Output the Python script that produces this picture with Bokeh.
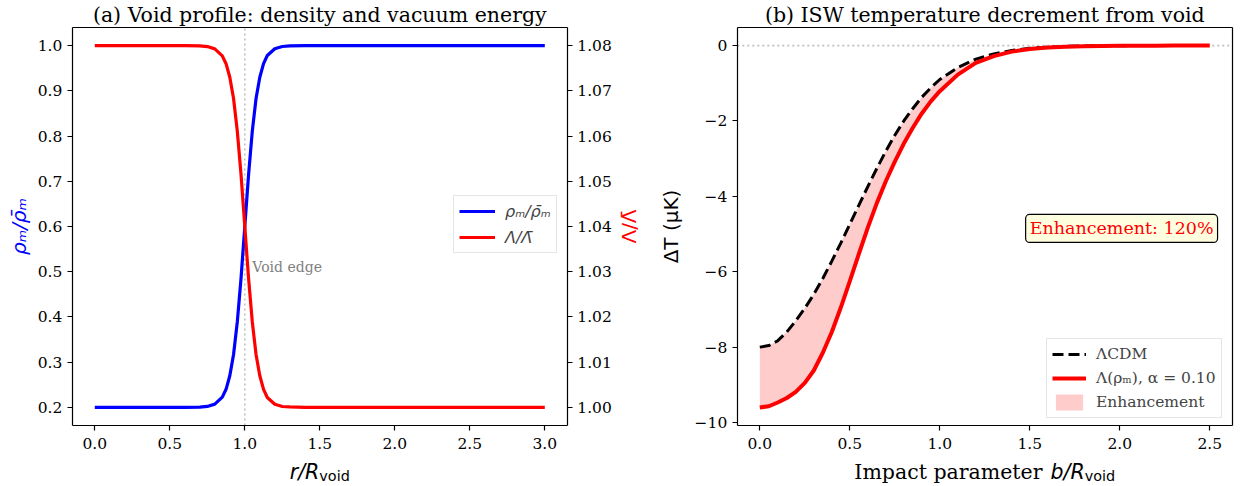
import math
from bokeh.plotting import figure
from bokeh.models import (Range1d, LinearAxis, FixedTicker, PrintfTickFormatter,
                          Label, Legend, LegendItem)
from bokeh.layouts import row
from bokeh.embed import file_html
from bokeh.resources import INLINE

SERIF = "DejaVu Serif"
SANS = "DejaVu Sans"

# ---------------- data ----------------
r_profile = [0.0, 0.5, 0.6, 0.7, 0.75, 0.8, 0.85, 0.875, 0.9, 0.925, 0.95, 0.975,
             1.0, 1.025, 1.05, 1.075, 1.1, 1.125, 1.15, 1.2, 1.25, 1.3, 1.4, 1.5, 2.0, 3.0]
rho_ratio = [0.200, 0.200, 0.2002, 0.2007, 0.2022, 0.2072, 0.2228, 0.240, 0.270, 0.317,
             0.389, 0.486, 0.600, 0.714, 0.811, 0.883, 0.930, 0.960, 0.978, 0.993,
             0.998, 0.9993, 1.0, 1.0, 1.0, 1.0]
lam_ratio = [1.0800, 1.0800, 1.07998, 1.07993, 1.07978, 1.07928, 1.07772, 1.0760, 1.0730,
             1.0683, 1.0611, 1.0514, 1.0400, 1.0286, 1.0189, 1.0117, 1.0070, 1.0040,
             1.0022, 1.0007, 1.0002, 1.0001, 1.0, 1.0, 1.0, 1.0]
void_edge = 1.0

b_impact = [0.0, 0.05, 0.1, 0.15, 0.2, 0.25, 0.3, 0.35, 0.4, 0.45, 0.5, 0.55, 0.6,
            0.65, 0.7, 0.75, 0.8, 0.85, 0.9, 0.95, 1.0, 1.1, 1.2, 1.3, 1.4, 1.5,
            1.6, 1.7, 1.8, 1.9, 2.0, 2.1, 2.2, 2.3, 2.4, 2.5]
dT_lcdm = [-8.00, -7.96, -7.83, -7.60, -7.30, -6.97, -6.60, -6.18, -5.72, -5.24, -4.74,
           -4.24, -3.74, -3.26, -2.80, -2.38, -2.00, -1.67, -1.37, -1.12, -0.90,
           -0.58, -0.36, -0.22, -0.13, -0.07, -0.04, -0.02, -0.01, -0.005, -0.002,
           0.0, 0.0, 0.0, 0.0, 0.0]
dT_lam = [-9.60, -9.57, -9.47, -9.35, -9.19, -8.95, -8.62, -8.15, -7.60, -6.95, -6.25,
          -5.53, -4.83, -4.18, -3.60, -3.08, -2.60, -2.18, -1.80, -1.48, -1.21,
          -0.77, -0.46, -0.28, -0.16, -0.09, -0.05, -0.03, -0.015, -0.008, -0.004,
          -0.002, -0.001, 0.0, 0.0, 0.0]
enhancement_text = "Enhancement: 120%"

x1_ticks = [0.0, 0.5, 1.0, 1.5, 2.0, 2.5, 3.0]
y1_ticks = [0.2, 0.3, 0.4, 0.5, 0.6, 0.7, 0.8, 0.9, 1.0]
y1r_ticks = [1.00, 1.01, 1.02, 1.03, 1.04, 1.05, 1.06, 1.07, 1.08]
x2_ticks = [0.0, 0.5, 1.0, 1.5, 2.0, 2.5]
y2_ticks = [-10, -8, -6, -4, -2, 0]
y2_labels = ["\u221210", "\u22128", "\u22126", "\u22124", "\u22122", "0"]

# axis limits of the plotting boxes
X1 = (-0.15, 3.15)
Y1 = (0.16, 1.04)
Y1R = (0.996, 1.084)
X2 = (-0.125, 2.625)
Y2 = (-10.08, 0.48)

# ---------------- layout constants (pixels) ----------------
H = 484
W1, W2 = 650, 590
BOX1 = (71.8, 566.8, 27.0, 425.0)   # left, right, top, bottom inside canvas 1
BOX2 = (86.8, 581.8, 27.0, 425.0)   # inside canvas 2

TICK_FS = "15.5px"
TITLE_FS = "20.5px"
LABEL_FS = "20.5px"
YLABEL_FS = "20px"
SUB_FS = "14.4px"
LEG_FS = "15.5px"
TITLE_DY = 13
XLABEL_DY = -46


def extend(lo, hi, p_lo, p_hi, total):
    s = (hi - lo) / (p_hi - p_lo)
    return Range1d(lo - p_lo * s, hi + (total - p_hi) * s)


def xr(lims, box, w):
    return extend(lims[0], lims[1], box[0], box[1], w)


def yr(lims, box, h):
    return extend(lims[0], lims[1], h - box[3], h - box[2], h)


def style_axis(ax, ticks=True, standoff=5):
    ax.axis_line_color = "black"
    ax.axis_line_width = 1.2
    ax.major_tick_line_color = "black" if ticks else None
    ax.major_tick_line_width = 1.2
    ax.major_tick_out = 5
    ax.major_tick_in = 0
    ax.minor_tick_line_color = None
    ax.major_label_text_font = SERIF
    ax.major_label_text_font_size = TICK_FS
    ax.major_label_text_color = "black"
    ax.major_label_standoff = standoff
    if not ticks:
        ax.major_label_text_alpha = 0


def make_fig(w, xrange_, yrange_):
    p = figure(width=w, height=H, output_backend="svg", toolbar_location=None,
               title=None, x_range=xrange_, y_range=yrange_,
               x_axis_type=None, y_axis_type=None, min_border=0)
    p.outline_line_color = None
    p.background_fill_color = "white"
    p.border_fill_color = "white"
    return p


def box_axes(p, xl, yl, xticks, yticks, xfmt, yfmt, right_axis=None):
    bottom = LinearAxis(fixed_location=yl[0], bounds=xl, ticker=FixedTicker(ticks=xticks),
                        formatter=PrintfTickFormatter(format=xfmt))
    style_axis(bottom, standoff=7)
    p.add_layout(bottom, "below")
    left = LinearAxis(fixed_location=xl[0], bounds=yl, ticker=FixedTicker(ticks=yticks))
    if yfmt is not None:
        left.formatter = PrintfTickFormatter(format=yfmt)
    style_axis(left)
    p.add_layout(left, "left")
    top = LinearAxis(fixed_location=yl[1], bounds=xl, ticker=FixedTicker(ticks=[]))
    style_axis(top, ticks=False)
    p.add_layout(top, "above")
    if right_axis is None:
        right = LinearAxis(fixed_location=xl[1], bounds=yl, ticker=FixedTicker(ticks=[]))
        style_axis(right, ticks=False)
        p.add_layout(right, "right")
    else:
        p.add_layout(right_axis, "right")
    return left


def compose_label(p, xc, y0, parts, yoff):
    total = sum(pt[4] for pt in parts)
    off = -total / 2.0
    for text, font, size, fstyle, w, dy in parts:
        p.add_layout(Label(x=xc, y=y0, x_offset=off, y_offset=yoff - dy, text=text,
                           text_font=font, text_font_size=size, text_font_style=fstyle,
                           text_align="left", text_baseline="alphabetic",
                           text_color="black"))
        off += w


# ---------------- panel (a) ----------------
p1 = make_fig(W1, xr(X1, BOX1, W1), yr(Y1, BOX1, H))
p1.extra_y_ranges = {"lam": yr(Y1R, BOX1, H)}
rax = LinearAxis(y_range_name="lam", fixed_location=X1[1], bounds=Y1R,
                 ticker=FixedTicker(ticks=y1r_ticks),
                 formatter=PrintfTickFormatter(format="%.2f"))
style_axis(rax)
left1 = box_axes(p1, X1, Y1, x1_ticks, y1_ticks, "%.1f", "%.1f", right_axis=rax)

p1.line([void_edge, void_edge], list(Y1), line_color="#bfbfbf", line_dash="2 3",
        line_width=1.6)
l_rho = p1.line(r_profile, rho_ratio, line_color="#0000ff", line_width=3.2)
l_lam = p1.line(r_profile, lam_ratio, y_range_name="lam", line_color="#ff0000",
                line_width=3.2)

p1.add_layout(Label(x=void_edge + 0.05, y=0.5, y_offset=5, text="Void edge",
                    text_font=SERIF, text_font_size="14px", text_color="#808080",
                    text_baseline="alphabetic", text_align="left"))

leg1 = Legend(items=[LegendItem(label="\u03c1\u2098/\u03c1\u0304\u2098", renderers=[l_rho]),
                     LegendItem(label="\u039b/\u039b\u0304", renderers=[l_lam])],
              location=(453, H - 253))
leg1.label_text_font = SANS
leg1.label_text_font_style = "italic"
leg1.label_text_font_size = "16px"
leg1.border_line_color = "#cccccc"
leg1.border_line_width = 1
leg1.background_fill_alpha = 0.8
leg1.glyph_width = 36
leg1.glyph_height = 20
leg1.label_height = 20
leg1.spacing = 6
leg1.padding = 5
leg1.margin = 0
leg1.label_standoff = 10
p1.add_layout(leg1)

p1.add_layout(Label(x=sum(X1) / 2, y=Y1[1], y_offset=TITLE_DY,
                    text="(a) Void profile: density and vacuum energy",
                    text_font=SERIF, text_font_size=TITLE_FS, text_align="center",
                    text_baseline="alphabetic", text_color="black"))
p1.add_layout(Label(x=X1[0], y=sum(Y1) / 2, x_offset=-53,
                    text="\u03c1\u2098/\u03c1\u0304\u2098",
                    text_font=SANS, text_font_style="italic", text_font_size=YLABEL_FS,
                    text_color="#0000ff", angle=math.pi / 2, text_align="center",
                    text_baseline="middle"))
p1.add_layout(Label(x=X1[1], y=sum(Y1) / 2, x_offset=62, text="\u039b/\u039b\u0304",
                    text_font=SANS, text_font_size=YLABEL_FS,
                    text_color="#ff0000", angle=math.pi / 2, text_align="center",
                    text_baseline="middle"))
compose_label(p1, sum(X1) / 2, Y1[0], [
    ("r/R", SANS, LABEL_FS, "italic", 29.6, 0),
    ("void", SANS, SUB_FS, "normal", 30.5, 4),
], XLABEL_DY)

# ---------------- panel (b) ----------------
p2 = make_fig(W2, xr(X2, BOX2, W2), yr(Y2, BOX2, H))
left2 = box_axes(p2, X2, Y2, x2_ticks, y2_ticks, "%.1f", None)
left2.major_label_overrides = {float(t): s for t, s in zip(y2_ticks, y2_labels)}

p2.line(list(X2), [0.0, 0.0], line_color="#bfbfbf", line_dash="2 3", line_width=1.6)
f_enh = p2.varea(x=b_impact, y1=dT_lcdm, y2=dT_lam, fill_color="#ff0000", fill_alpha=0.2)
l_lcdm = p2.line(b_impact, dT_lcdm, line_color="black", line_width=3.0, line_dash="11 5")
l_mod = p2.line(b_impact, dT_lam, line_color="#ff0000", line_width=4.0)

p2.add_layout(Label(x=2.01, y=-4.85, text=enhancement_text, text_font=SERIF,
                    text_font_size="17.5px", text_color="#ff0000", text_align="center",
                    text_baseline="middle", background_fill_color="#ffffe0",
                    border_line_color="black", border_line_width=1.2, padding=4,
                    border_radius=4))

leg2 = Legend(items=[LegendItem(label="\u039bCDM", renderers=[l_lcdm]),
                     LegendItem(label="\u039b(\u03c1\u2098), \u03b1 = 0.10", renderers=[l_mod]),
                     LegendItem(label="Enhancement", renderers=[f_enh])],
              location=(1046 - W1, H - 418))
leg2.label_text_font = SERIF
leg2.label_text_font_size = LEG_FS
leg2.border_line_color = "#cccccc"
leg2.border_line_width = 1
leg2.background_fill_alpha = 0.8
leg2.glyph_width = 34
leg2.glyph_height = 20
leg2.label_height = 20
leg2.spacing = 4
leg2.padding = 5
leg2.margin = 0
leg2.label_standoff = 10
p2.add_layout(leg2)

p2.add_layout(Label(x=sum(X2) / 2, y=Y2[1], y_offset=TITLE_DY,
                    text="(b) ISW temperature decrement from void",
                    text_font=SERIF, text_font_size=TITLE_FS, text_align="center",
                    text_baseline="alphabetic", text_color="black"))
p2.add_layout(Label(x=X2[0], y=sum(Y2) / 2, x_offset=-66, text="\u0394T (\u03bcK)",
                    text_font=SANS, text_font_size=YLABEL_FS,
                    text_color="black", angle=math.pi / 2, text_align="center",
                    text_baseline="middle"))
compose_label(p2, sum(X2) / 2, Y2[0], [
    ("Impact parameter ", SERIF, LABEL_FS, "normal", 196.3, 0),
    ("b/R", SANS, LABEL_FS, "italic", 34.2, 0),
    ("void", SANS, SUB_FS, "normal", 30.5, 4),
], XLABEL_DY)

layout = row(p1, p2)
open("out.html", "w").write(file_html(layout, INLINE))
